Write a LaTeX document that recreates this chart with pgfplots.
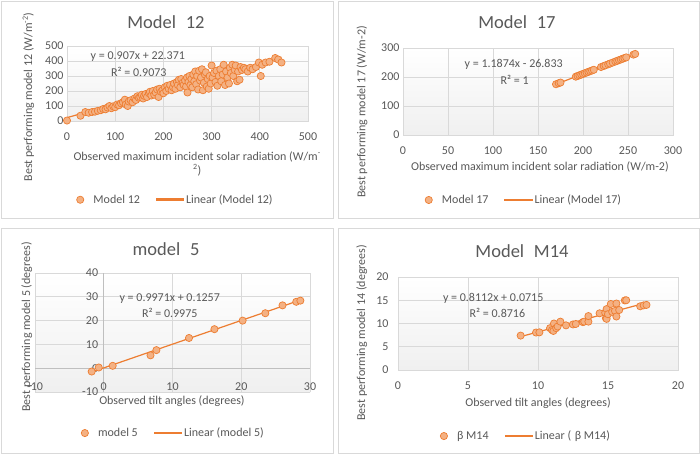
\documentclass[border=0pt]{standalone}
\usepackage{pgfplots}
\pgfplotsset{compat=1.18}
\usepackage{fontspec}
\setmainfont{Carlito}

\definecolor{txt}{HTML}{595959}
\definecolor{ora}{HTML}{ED7D31}
\definecolor{orafill}{HTML}{F4B183}
\definecolor{gridc}{HTML}{D9D9D9}
\definecolor{axc}{HTML}{BFBFBF}

\newcommand{\lblfont}{\fontsize{12}{14}\selectfont}

\pgfplotsset{
  panel/.style={
    scale only axis,
    anchor=south west,
    clip=false,
    grid=major,
    major grid style={gridc, line width=0.8pt},
    axis line style={gridc, line width=0.8pt},
    tick style={draw=none},
    /pgf/number format/assume math mode=true,
    every tick label/.append style={font=\lblfont, text=txt},
    xticklabel style={yshift=-8pt},
    legend style={draw=none, fill=none, font=\lblfont, text=txt,
      legend columns=2, /tikz/every even column/.style={column sep=14pt}},
    legend cell align=left,
    axis background/.style={top color=white, bottom color=black!6},
  },
  pts/.style={only marks, mark=*, mark size=3.6pt,
    mark options={draw=ora, fill=orafill, line width=0.7pt},
    legend image code/.code={
      \draw[ora, fill=orafill, line width=0.7pt] (0pt,0pt) circle (3.6pt);
      \path (11pt,0pt);}},
  trend/.style={no marks, color=ora, line width=1.2pt,
    legend image code/.code={\fill[fill=ora] (0pt,-0.7pt) rectangle (27pt,0.7pt);}},
}

\begin{document}
\begin{tikzpicture}[x=1pt,y=1pt]
\useasboundingbox (0,0) rectangle (700,-454);
\fill[white] (0,0) rectangle (700,-454);
\draw[gridc, line width=0.8pt] (1,-1) rectangle (333,-218);
\draw[gridc, line width=0.8pt] (338,-1) rectangle (699,-218);
\draw[gridc, line width=0.8pt] (1,-228) rectangle (333,-453);
\draw[gridc, line width=0.8pt] (338,-228) rectangle (699,-453);

\node[font=\fontsize{18.5}{20}\selectfont, text=txt] at (166,-22) {Model\hspace{0.3em} 12};
\node[font=\fontsize{18.5}{20}\selectfont, text=txt] at (517,-22) {Model\hspace{0.3em} 17};
\node[font=\fontsize{18.5}{20}\selectfont, text=txt] at (166,-249) {model\hspace{0.3em} 5};
\node[font=\fontsize{18.5}{20}\selectfont, text=txt] at (522,-251) {Model\hspace{0.3em} M14};

% ---------------- Model 12
\begin{axis}[panel,
  at={(67pt,-121pt)}, width=241pt, height=75pt,
  xmin=0, xmax=500, ymin=0, ymax=500,
  xtick={0,100,...,500}, ytick={0,100,...,500},
  xlabel={Observed maximum incident solar radiation (W/m\textsuperscript{-}\\\textsuperscript{2})},
  xlabel style={font=\lblfont, text=txt, align=center, at={(axis description cs:0.54,-0.57)}, anchor=center},
  ylabel={Best performing model 12 (W/m\textsuperscript{-2})},
  ylabel style={font=\lblfont, text=txt, at={(axis description cs:-0.16,0.32)}, anchor=center},
  legend style={at={(axis description cs:0.45,-1.05)}, anchor=center},
]
\addplot[pts] coordinates {
 (0,3) (28,35) (38,60) (45,55) (52,60) (58,62) (64,68) (70,72) (75,80) (80,78)
 (84,90) (88,100) (92,85) (96,98)
 (100,92) (104,110) (108,105) (112,118) (116,125) (120,142) (122,110) (126,100)
 (128,130) (132,138) (136,125) (140,150) (143,140) (146,165) (149,155)
 (152,160) (155,175) (158,150) (160,168) (163,180) (166,160) (170,185) (172,195)
 (175,170) (178,200) (181,175) (184,190) (187,210) (190,160) (192,215) (195,195) (198,205)
 (200,185) (203,225) (206,200) (208,235) (211,215) (214,240) (217,205) (220,225)
 (222,250) (225,215) (228,260) (230,240) (232,275) (235,225) (237,280) (240,255)
 (242,240) (245,270) (247,230) (249,290)
 (250,190) (252,260) (254,300) (256,240) (258,280) (260,225) (262,310) (264,265)
 (266,330) (268,245) (270,300) (272,210) (274,335) (276,270) (278,290) (280,345)
 (282,205) (284,255) (286,310) (288,325) (290,230) (292,280) (294,215) (296,300)
 (298,250) (300,370)
 (302,290) (305,320) (308,260) (310,335) (312,235) (315,300) (318,345) (320,265)
 (323,310) (325,375) (328,240) (330,330) (333,290) (336,250) (338,355) (340,320)
 (343,375) (345,300) (348,340) (350,370) (353,265) (355,330) (358,275) (360,360)
 (363,340) (367,355) (370,345) (375,330) (380,355) (385,345) (392,360) (398,390)
 (402,300) (405,375) (412,390) (420,395) (432,420) (438,410) (445,390)
};
\addlegendentry{Model 12}
\addplot[trend] coordinates {(0,22.371) (445,426.0)};
\addlegendentry{Linear (Model 12)}
\node[font=\lblfont, text=txt] at (axis cs:147,427) {y = 0.907x + 22.371};
\node[font=\lblfont, text=txt] at (axis cs:149,327) {R² = 0.9073};
\end{axis}

% ---------------- Model 17
\begin{axis}[panel,
  at={(403pt,-135pt)}, width=270pt, height=87pt,
  xmin=0, xmax=300, ymin=0, ymax=300,
  xtick={0,50,...,300}, ytick={0,100,...,300},
  xlabel={Observed maximum incident solar radiation (W/m-2)},
  xlabel style={font=\lblfont, text=txt, at={(axis description cs:0.507,-0.368)}, anchor=center},
  ylabel={Best performing model 17 (W/m-2)},
  ylabel style={font=\lblfont, text=txt, at={(axis description cs:-0.152,0.264)}, anchor=center},
  legend style={at={(axis description cs:0.448,-0.747)}, anchor=center},
]
\addplot[pts] coordinates {
 (170,175.03) (173,178.59) (175,180.96) (192,201.15) (194,203.52) (196,205.90)
 (198,208.27) (200,210.65) (202,213.02) (204,215.40) (206,217.77) (208,220.15)
 (210,222.52) (212,224.90) (220,234.40) (223,237.96) (225,240.33) (228,243.89)
 (230,246.27) (233,249.83) (236,253.39) (238,255.77) (240,258.14) (242,260.52)
 (244,262.89) (246,265.27) (248,267.64) (256,277.14) (258,279.52)
};
\addlegendentry{Model 17}
\addplot[trend] coordinates {(170,175.03) (258,279.52)};
\addlegendentry{Linear (Model 17)}
\node[font=\lblfont, text=txt] at (axis cs:123,245) {y = 1.1874x - 26.833};
\node[font=\lblfont, text=txt] at (axis cs:124,190) {R² = 1};
\end{axis}

% ---------------- model 5
\begin{axis}[panel,
  at={(35pt,-392pt)}, width=275pt, height=119pt,
  axis lines=middle,
  axis line style={-, axc, line width=0.8pt},
  hide obscured x ticks=false, hide obscured y ticks=false,
  xticklabel style={yshift=-1pt},
  xmin=-10, xmax=30, ymin=-10, ymax=40,
  xtick={-10,0,...,30}, ytick={-10,0,...,40},
  xlabel={Observed tilt angles (degrees)},
  xlabel style={font=\lblfont, text=txt, at={(axis description cs:0.498,-0.076)}, anchor=center},
  ylabel={Best performing model 5 (degrees)},
  ylabel style={font=\lblfont, text=txt, rotate=90, at={(axis description cs:-0.03,0.546)}, anchor=center},
  legend style={at={(axis description cs:0.503,-0.345)}, anchor=center},
]
\addplot[pts] coordinates {
 (-1.76,-1.4) (-0.73,0.3) (1.3,1.0) (6.8,5.4) (7.66,7.6) (12.4,12.7)
 (16.1,16.4) (20.2,20.0) (23.5,23.1) (26.0,26.4) (28.0,27.9) (28.6,28.4)
};
\addlegendentry{model 5}
\addplot[trend] coordinates {(-1.76,-1.63) (28.6,28.64)};
\addlegendentry{Linear (model 5)}
\node[font=\lblfont, text=txt] at (axis cs:9.6,29.1) {y = 0.9971x + 0.1257};
\node[font=\lblfont, text=txt] at (axis cs:9.6,23.2) {R² = 0.9975};
\end{axis}

% ---------------- Model M14
\begin{axis}[panel,
  at={(398pt,-370pt)}, width=280pt, height=93pt,
  xmin=0, xmax=20, ymin=0, ymax=20,
  xtick={0,5,...,20}, ytick={0,5,...,20},
  yticklabel style={xshift=-6pt},
  xlabel={Observed tilt angles (degrees)},
  xlabel style={font=\lblfont, text=txt, at={(axis description cs:0.5,-0.355)}, anchor=center},
  ylabel={Best performing model 14 (degrees)},
  ylabel style={font=\lblfont, text=txt, at={(axis description cs:-0.129,0.40)}, anchor=center},
  legend style={at={(axis description cs:0.457,-0.71)}, anchor=center},
]
\addplot[pts] coordinates {
 (8.76,7.4) (9.86,8.06) (10.1,8.1) (10.86,9.0) (11.0,8.6) (11.1,8.4) (11.14,10.0)
 (11.3,9.0) (11.4,9.35) (11.6,10.4) (12.0,9.6) (12.5,9.8) (12.7,9.9) (13.2,10.3)
 (13.3,10.4) (13.6,10.4) (13.6,11.6) (14.4,12.2) (14.8,12.3) (14.85,11.15)
 (14.9,11.0) (14.9,13.1) (15.0,12.0) (15.2,14.2) (15.3,12.5) (15.5,12.7)
 (15.6,14.3) (15.6,11.5) (15.8,12.9) (16.2,14.96) (16.3,15.0) (17.3,13.7)
 (17.55,13.9) (17.75,14.0)
};
\addlegendentry{β M14}
\addplot[trend] coordinates {(8.76,7.18) (17.75,14.47)};
\addlegendentry{Linear (\hspace{0.3em}β M14)}
\node[font=\lblfont, text=txt] at (axis cs:6.8,15.3) {y = 0.8112x + 0.0715};
\node[font=\lblfont, text=txt] at (axis cs:7.1,12.3) {R² = 0.8716};
\end{axis}
\end{tikzpicture}
\end{document}
